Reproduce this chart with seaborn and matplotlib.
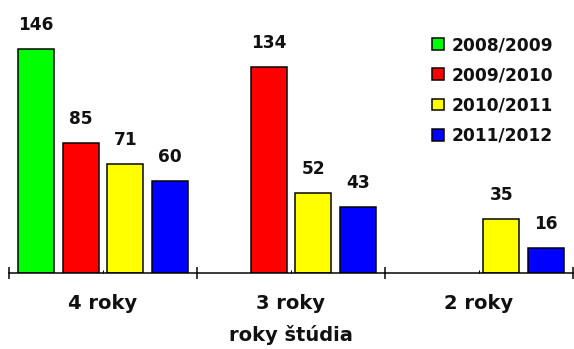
import numpy as np
import pandas as pd
import matplotlib
matplotlib.use("Agg")
import matplotlib.pyplot as plt
from matplotlib.patches import Patch
import seaborn as sns

# Students by length of study, per academic year
categories = ["4 roky", "3 roky", "2 roky"]
seasons = ["2008/2009", "2009/2010", "2010/2011", "2011/2012"]
v_2008_2009 = [146, np.nan, np.nan]
v_2009_2010 = [85, 134, np.nan]
v_2010_2011 = [71, 52, 35]
v_2011_2012 = [60, 43, 16]
colors = ["#00FF00", "#FF0000", "#FFFF00", "#0000FF"]

series = [v_2008_2009, v_2009_2010, v_2010_2011, v_2011_2012]
rows = []
for season, vals in zip(seasons, series):
    for cat, v in zip(categories, vals):
        if not np.isnan(v):
            rows.append({"roky": cat, "rok": season, "pocet": v})
df = pd.DataFrame(rows)

sns.set_style("white")
plt.rcParams["font.family"] = ["DejaVu Sans"]
plt.rcParams["font.weight"] = "bold"

W, H, DPI = 574, 349, 72
fig = plt.figure(figsize=(W / DPI, H / DPI), dpi=DPI)
ax = fig.add_axes([9 / W, 76 / H, 564 / W, 245.4 / H])

sns.barplot(data=df, x="roky", y="pocet", hue="rok", order=categories,
            hue_order=seasons, palette=colors, saturation=1, width=0.95,
            gap=0.2, edgecolor="black", linewidth=1.5, legend=False, ax=ax)

txt_color = "#111111"
for cont in ax.containers:
    ax.bar_label(cont, fmt="%d", padding=15, fontsize=17, fontweight="bold",
                 color=txt_color)

ax.set_xlim(-0.5, 2.5)
ax.set_ylim(0, 160)
ax.yaxis.set_visible(False)
for side in ["left", "top", "right"]:
    ax.spines[side].set_visible(False)
ax.spines["bottom"].set_color("black")
ax.spines["bottom"].set_linewidth(1.5)

ax.set_xticks([0, 1, 2])
ax.set_xticklabels(categories, fontsize=19.5, fontweight="bold", color=txt_color)
ax.set_xticks([-0.5, 0.5, 1.5, 2.5], minor=True)
ax.tick_params(axis="x", which="both", bottom=True)
ax.tick_params(axis="x", which="major", direction="in", length=3, width=1,
               pad=21, color="black")
ax.tick_params(axis="x", which="minor", direction="inout", length=12,
               width=1.5, color="black")
ax.set_xlabel("roky štúdia", fontsize=19.5, fontweight="bold", color=txt_color,
              labelpad=12)

handles = [Patch(facecolor=c, edgecolor="black", linewidth=1.5) for c in colors]
fig.legend(handles, seasons, loc="upper left",
           bbox_to_anchor=(432 / W, 1 - 36 / H), frameon=False,
           borderpad=0, borderaxespad=0, handlelength=0.7, handleheight=0.7,
           handletextpad=0.45, labelspacing=0.72,
           prop={"size": 17, "weight": "bold"}, labelcolor=txt_color)

fig.savefig("out.png", dpi=DPI)
